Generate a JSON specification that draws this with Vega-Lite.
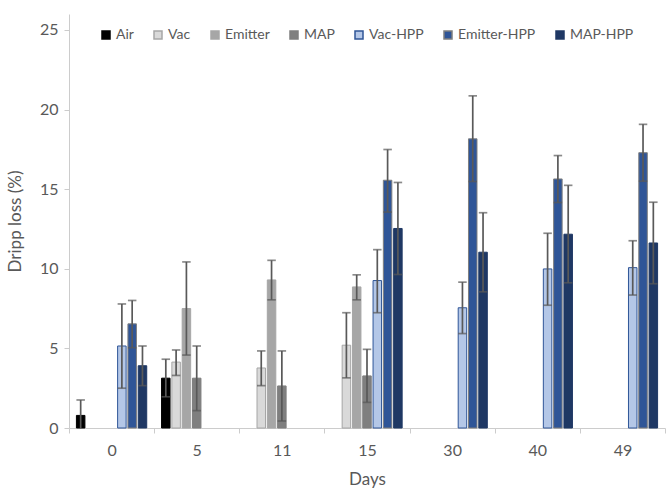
{
  "$schema": "https://vega.github.io/schema/vega-lite/v6.json",
  "autosize": "none",
  "padding": {"left": 69, "top": 14, "right": 1, "bottom": 64},
  "width": 596,
  "height": 414,
  "background": "white",
  "config": {
    "view": {"stroke": null},
    "font": "Lato",
    "axis": {"grid": false, "domainColor": "#cccccc", "tickColor": "#cccccc", "labelColor": "#595959", "titleColor": "#595959", "labelFont": "Lato", "titleFont": "Lato", "titleFontWeight": "normal"}
  },
  "data": {
    "values": [
      {"day": "0", "series": "Air", "value": 0.79, "lo": -0.18, "hi": 1.76},
      {"day": "0", "series": "Vac-HPP", "value": 5.15, "lo": 2.5, "hi": 7.79},
      {"day": "0", "series": "Emitter-HPP", "value": 6.54, "lo": 5.04, "hi": 8.01},
      {"day": "0", "series": "MAP-HPP", "value": 3.91, "lo": 2.66, "hi": 5.15},
      {"day": "5", "series": "Air", "value": 3.13, "lo": 1.96, "hi": 4.32},
      {"day": "5", "series": "Vac", "value": 4.14, "lo": 3.3, "hi": 4.9},
      {"day": "5", "series": "Emitter", "value": 7.5, "lo": 4.58, "hi": 10.43},
      {"day": "5", "series": "MAP", "value": 3.13, "lo": 1.09, "hi": 5.15},
      {"day": "11", "series": "Vac", "value": 3.77, "lo": 2.66, "hi": 4.84},
      {"day": "11", "series": "Emitter", "value": 9.3, "lo": 8.05, "hi": 10.53},
      {"day": "11", "series": "MAP", "value": 2.64, "lo": 0.44, "hi": 4.84},
      {"day": "15", "series": "Vac", "value": 5.2, "lo": 3.15, "hi": 7.24},
      {"day": "15", "series": "Emitter", "value": 8.86, "lo": 8.05, "hi": 9.62},
      {"day": "15", "series": "MAP", "value": 3.27, "lo": 1.61, "hi": 4.94},
      {"day": "15", "series": "Vac-HPP", "value": 9.26, "lo": 7.24, "hi": 11.2},
      {"day": "15", "series": "Emitter-HPP", "value": 15.56, "lo": 13.56, "hi": 17.49},
      {"day": "15", "series": "MAP-HPP", "value": 12.53, "lo": 9.64, "hi": 15.42},
      {"day": "30", "series": "Vac-HPP", "value": 7.55, "lo": 5.93, "hi": 9.16},
      {"day": "30", "series": "Emitter-HPP", "value": 18.16, "lo": 15.48, "hi": 20.86},
      {"day": "30", "series": "MAP-HPP", "value": 11.04, "lo": 8.55, "hi": 13.52},
      {"day": "40", "series": "Vac-HPP", "value": 9.99, "lo": 7.71, "hi": 12.23},
      {"day": "40", "series": "Emitter-HPP", "value": 15.64, "lo": 14.16, "hi": 17.11},
      {"day": "40", "series": "MAP-HPP", "value": 12.17, "lo": 9.12, "hi": 15.24},
      {"day": "49", "series": "Vac-HPP", "value": 10.07, "lo": 8.35, "hi": 11.76},
      {"day": "49", "series": "Emitter-HPP", "value": 17.29, "lo": 15.5, "hi": 19.07},
      {"day": "49", "series": "MAP-HPP", "value": 11.62, "lo": 9.06, "hi": 14.18}
    ]
  },
  "encoding": {
    "x": {
      "field": "day", "type": "nominal",
      "sort": ["0", "5", "11", "15", "30", "40", "49"],
      "scale": {"paddingInner": 0, "paddingOuter": 0},
      "axis": {"title": "Days", "labelAngle": 0, "tickBand": "extent", "tickSize": 5, "labelFontSize": 16, "titleFontSize": 17, "labelPadding": 9, "titlePadding": 13}
    },
    "xOffset": {
      "field": "series", "type": "nominal",
      "scale": {"domain": ["Air", "Vac", "Emitter", "MAP", "Vac-HPP", "Emitter-HPP", "MAP-HPP"], "paddingInner": 0.175, "paddingOuter": 0.72}
    }
  },
  "layer": [
    {
      "mark": {"type": "bar", "strokeWidth": 1},
      "encoding": {
        "y": {
          "field": "value", "type": "quantitative",
          "scale": {"domain": [0, 25]},
          "axis": {"title": "Dripp loss (%)", "values": [0, 5, 10, 15, 20, 25], "tickSize": 5, "labelFontSize": 16, "titleFontSize": 17, "labelPadding": 6, "titlePadding": 15}
        },
        "fill": {
          "field": "series", "type": "nominal",
          "scale": {"domain": ["Air", "Vac", "Emitter", "MAP", "Vac-HPP", "Emitter-HPP", "MAP-HPP"], "range": ["#000000", "#d9d9d9", "#a6a6a6", "#7f7f7f", "#b4c7e7", "#2f5597", "#1f3864"]},
          "legend": {"title": null, "orient": "none", "direction": "horizontal", "legendX": 30, "legendY": 14, "symbolType": "square", "symbolSize": 64, "labelFontSize": 14, "labelColor": "#595959", "labelFont": "Lato", "columnPadding": 17, "labelOffset": 3}
        },
        "stroke": {
          "field": "series", "type": "nominal",
          "scale": {"domain": ["Air", "Vac", "Emitter", "MAP", "Vac-HPP", "Emitter-HPP", "MAP-HPP"], "range": ["#000000", "#a6a6a6", "#a6a6a6", "#7f7f7f", "#2f5597", "#7f7f7f", "#1f3864"]},
          "legend": {"title": null, "orient": "none", "direction": "horizontal", "legendX": 30, "legendY": 14, "symbolType": "square", "symbolSize": 64, "labelFontSize": 14, "labelColor": "#595959", "labelFont": "Lato", "columnPadding": 17, "labelOffset": 3}
        }
      }
    },
    {
      "mark": {"type": "rule", "color": "#595959", "strokeWidth": 1.7, "clip": true},
      "encoding": {
        "y": {"field": "lo", "type": "quantitative"},
        "y2": {"field": "hi"}
      }
    },
    {
      "mark": {"type": "tick", "color": "#595959", "thickness": 1.7, "size": 8.5, "clip": true},
      "encoding": {"y": {"field": "hi", "type": "quantitative"}}
    },
    {
      "mark": {"type": "tick", "color": "#595959", "thickness": 1.7, "size": 8.5, "clip": true},
      "encoding": {"y": {"field": "lo", "type": "quantitative"}}
    }
  ]
}
